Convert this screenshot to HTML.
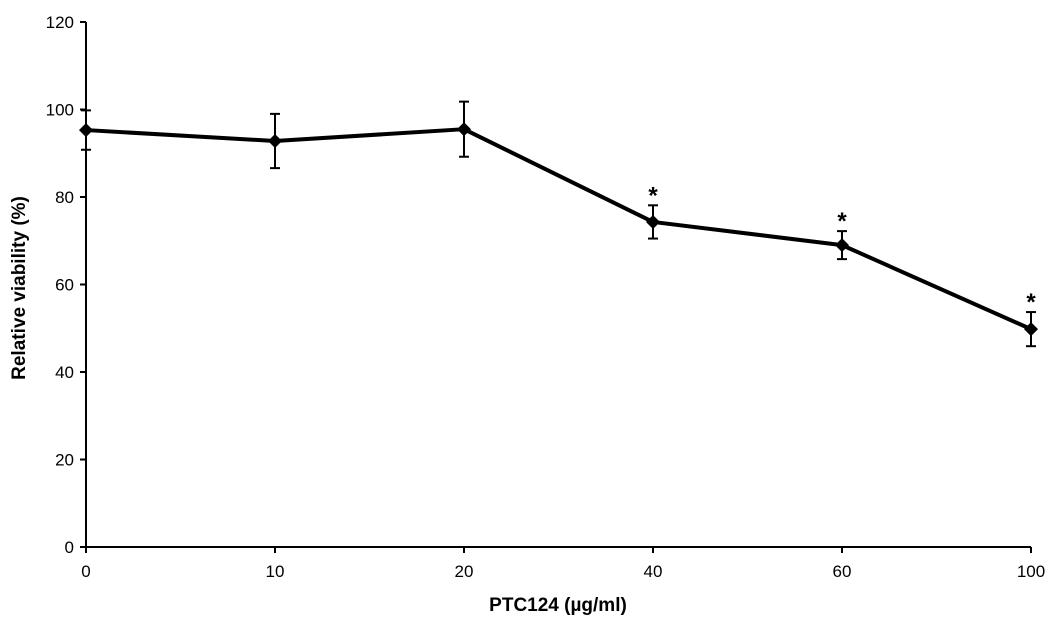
<!DOCTYPE html>
<html><head><meta charset="utf-8"><style>
html,body{margin:0;padding:0;background:#fff;}
svg{display:block;font-family:"Liberation Sans",Arial,sans-serif;}
</style></head><body>
<svg id="chart" width="1050" height="621"></svg>
<script>
const categories=["0","10","20","40","60","100"];
const viability=[95.3,92.8,95.5,74.3,69.0,49.8];
const errors=[4.5,6.2,6.3,3.8,3.2,3.9];
const significant=[false,false,false,true,true,true];
const yTicks=[0,20,40,60,80,100,120];
const NS="http://www.w3.org/2000/svg";
const svg=document.getElementById('chart');
const x0=86,dx=189,y0=547,pxPer=4.375;
const xs=i=>x0+i*dx;
const ys=v=>y0-v*pxPer;
function mk(t,a,p){const e=document.createElementNS(NS,t);for(const k in a)e.setAttribute(k,a[k]);(p||svg).appendChild(e);return e;}
let ax=mk('line',{x1:x0,y1:ys(120),x2:x0,y2:y0,stroke:'#000','stroke-width':2});


let bx=mk('line',{x1:x0,y1:y0,x2:xs(categories.length-1),y2:y0,stroke:'#000','stroke-width':2});


yTicks.forEach(v=>{
  mk('line',{x1:x0-6,y1:ys(v),x2:x0,y2:ys(v),stroke:'#000','stroke-width':2});
  const t=mk('text',{x:x0-12,y:ys(v)+6,'text-anchor':'end','font-size':17,fill:'#000'});
  t.textContent=v;
  
  
});
categories.forEach((c,i)=>{
  mk('line',{x1:xs(i),y1:y0,x2:xs(i),y2:y0+6,stroke:'#000','stroke-width':2});
  const t=mk('text',{x:xs(i),y:y0+30,'text-anchor':'middle','font-size':17,fill:'#000'});
  t.textContent=c;
  
  
});
const pts=viability.map((v,i)=>xs(i)+','+ys(v)).join(' ');
const line=mk('polyline',{points:pts,fill:'none',stroke:'#000','stroke-width':4,'stroke-linejoin':'round'});


viability.forEach((v,i)=>{
  const x=xs(i),yt=ys(v+errors[i]),yb=ys(v-errors[i]);
  const g=mk('g',{stroke:'#000','stroke-width':2});
  
  
  mk('line',{x1:x,y1:yt,x2:x,y2:yb},g);
  mk('line',{x1:x-5,y1:yt,x2:x+5,y2:yt},g);
  mk('line',{x1:x-5,y1:yb,x2:x+5,y2:yb},g);
  const y=ys(v);
  const m=mk('polygon',{points:`${x},${y-7} ${x+7},${y} ${x},${y+7} ${x-7},${y}`,fill:'#000'});
  
  
  if(significant[i]){
    const s=mk('text',{x:x,y:yt-2,'text-anchor':'middle','font-size':24,'font-weight':'bold',fill:'#000'});
    s.textContent='*';
    
    
  }
});
const xt=mk('text',{x:558,y:611,'text-anchor':'middle','font-size':19,'font-weight':'bold',fill:'#000'});
xt.textContent='PTC124 (µg/ml)';


const yt=mk('text',{x:0,y:0,'text-anchor':'middle','font-size':19,'font-weight':'bold',fill:'#000',transform:'translate(25,288) rotate(-90)'});
yt.textContent='Relative viability (%)';


</script>
</body></html>
